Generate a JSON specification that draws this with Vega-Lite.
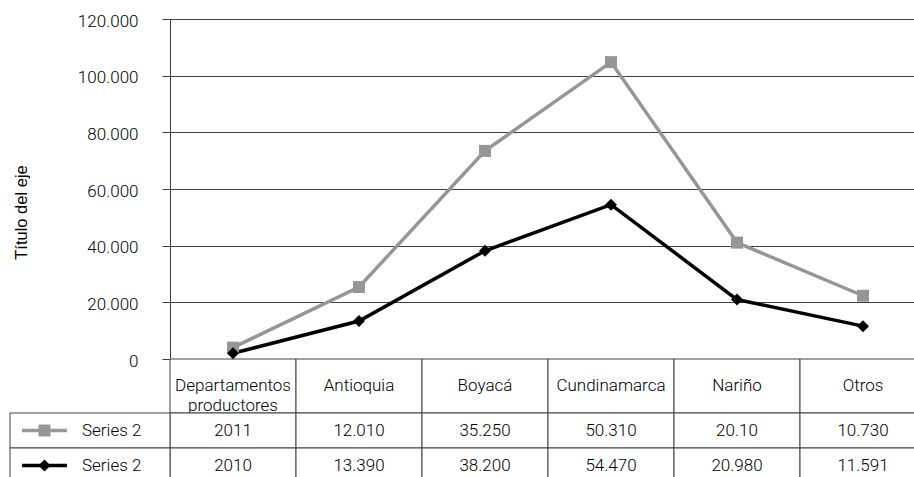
{
  "$schema": "https://vega.github.io/schema/vega-lite/v6.json",
  "width": 756,
  "height": 340,
  "autosize": {"type": "none"},
  "padding": {"left": 170, "top": 19, "right": -12, "bottom": 118},
  "background": "white",
  "config": {
    "view": {"stroke": null},
    "font": "Roboto, sans-serif",
    "text": {"fontWeight": 300},
    "axisY": {"titleFontSize": 16.5, "titleFont": "Liberation Sans, Arial, sans-serif", "titleFontWeight": "normal", "labelFontWeight": 300}
  },
  "datasets": {
    "valores": [
      {"categoria": "Departamentos productores", "serie": "2011", "valor": 2011, "etiqueta": "2011"},
      {"categoria": "Antioquia", "serie": "2011", "valor": 12010, "etiqueta": "12.010"},
      {"categoria": "Boyacá", "serie": "2011", "valor": 35250, "etiqueta": "35.250"},
      {"categoria": "Cundinamarca", "serie": "2011", "valor": 50310, "etiqueta": "50.310"},
      {"categoria": "Nariño", "serie": "2011", "valor": 20100, "etiqueta": "20.10"},
      {"categoria": "Otros", "serie": "2011", "valor": 10730, "etiqueta": "10.730"},
      {"categoria": "Departamentos productores", "serie": "2010", "valor": 2010, "etiqueta": "2010"},
      {"categoria": "Antioquia", "serie": "2010", "valor": 13390, "etiqueta": "13.390"},
      {"categoria": "Boyacá", "serie": "2010", "valor": 38200, "etiqueta": "38.200"},
      {"categoria": "Cundinamarca", "serie": "2010", "valor": 54470, "etiqueta": "54.470"},
      {"categoria": "Nariño", "serie": "2010", "valor": 20980, "etiqueta": "20.980"},
      {"categoria": "Otros", "serie": "2010", "valor": 11591, "etiqueta": "11.591"}
    ],
    "leyenda": [
      {"serie": "2011", "nombre": "Series 2"},
      {"serie": "2010", "nombre": "Series 2"}
    ]
  },
  "layer": [
    {
      "data": {"name": "valores"},
      "transform": [{"filter": "datum.serie == '2011'"}],
      "mark": {"type": "rect", "fill": "white", "stroke": "#404040", "strokeWidth": 1},
      "encoding": {
        "x": {"field": "categoria", "type": "nominal", "sort": ["Departamentos productores", "Antioquia", "Boyacá", "Cundinamarca", "Nariño", "Otros"], "scale": {"type": "band", "paddingInner": 0, "paddingOuter": 0}, "axis": null},
        "y": {"field": "serie", "type": "nominal", "scale": {"type": "band", "domain": ["2011"], "range": [340, 394], "paddingInner": 0, "paddingOuter": 0}, "axis": null}
      }
    },
    {
      "data": {"name": "valores"},
      "transform": [{"filter": "datum.serie == '2011'"}],
      "mark": {"type": "text", "lineBreak": " ", "lineHeight": 20, "fontSize": 17, "fontWeight": 300, "color": "#000000", "align": "center", "baseline": "middle"},
      "encoding": {
        "x": {"field": "categoria", "type": "nominal", "sort": ["Departamentos productores", "Antioquia", "Boyacá", "Cundinamarca", "Nariño", "Otros"], "scale": {"type": "band", "paddingInner": 0, "paddingOuter": 0}, "axis": null},
        "y": {"field": "serie", "type": "nominal", "scale": {"type": "band", "domain": ["2011"], "range": [340, 394], "paddingInner": 0, "paddingOuter": 0}, "axis": null},
        "text": {"field": "categoria"}
      }
    },
    {
      "data": {"name": "valores"},
      "mark": {"type": "rect", "fill": "white", "stroke": "#404040", "strokeWidth": 1},
      "encoding": {
        "x": {"field": "categoria", "type": "nominal", "sort": ["Departamentos productores", "Antioquia", "Boyacá", "Cundinamarca", "Nariño", "Otros"], "scale": {"type": "band", "paddingInner": 0, "paddingOuter": 0}, "axis": null},
        "y": {"field": "serie", "type": "nominal", "scale": {"type": "band", "domain": ["2011", "2010"], "range": [394, 464], "paddingInner": 0, "paddingOuter": 0}, "axis": null}
      }
    },
    {
      "data": {"name": "valores"},
      "mark": {"type": "text", "fontSize": 17, "fontWeight": 300, "color": "#000000", "align": "center", "baseline": "middle"},
      "encoding": {
        "x": {"field": "categoria", "type": "nominal", "sort": ["Departamentos productores", "Antioquia", "Boyacá", "Cundinamarca", "Nariño", "Otros"], "scale": {"type": "band", "paddingInner": 0, "paddingOuter": 0}, "axis": null},
        "y": {"field": "serie", "type": "nominal", "scale": {"type": "band", "domain": ["2011", "2010"], "range": [394, 464], "paddingInner": 0, "paddingOuter": 0}, "axis": null},
        "text": {"field": "etiqueta"}
      }
    },
    {
      "data": {"name": "leyenda"},
      "mark": {"type": "rect", "fill": "white", "stroke": "#404040", "strokeWidth": 1},
      "encoding": {
        "x": {"field": "nombre", "type": "nominal", "scale": {"type": "band", "domain": ["Series 2"], "range": [-160, 0], "paddingInner": 0, "paddingOuter": 0}, "axis": null},
        "y": {"field": "serie", "type": "nominal", "scale": {"type": "band", "domain": ["2011", "2010"], "range": [394, 464], "paddingInner": 0, "paddingOuter": 0}, "axis": null}
      }
    },
    {
      "data": {"name": "leyenda"},
      "mark": {"type": "tick", "orient": "horizontal", "size": 45, "thickness": 3.5, "opacity": 1},
      "encoding": {
        "x": {"field": "nombre", "type": "nominal", "scale": {"type": "band", "domain": ["Series 2"], "range": [-148, -103], "paddingInner": 0, "paddingOuter": 0}, "axis": null},
        "y": {"field": "serie", "type": "nominal", "scale": {"type": "band", "domain": ["2011", "2010"], "range": [394, 464], "paddingInner": 0, "paddingOuter": 0}, "axis": null},
        "color": {"field": "serie", "type": "nominal", "scale": {"domain": ["2011", "2010"], "range": ["#969696", "#000000"]}, "legend": null}
      }
    },
    {
      "data": {"name": "leyenda"},
      "mark": {"type": "point", "filled": true, "size": 144, "opacity": 1, "strokeWidth": 0},
      "encoding": {
        "x": {"field": "nombre", "type": "nominal", "scale": {"type": "band", "domain": ["Series 2"], "range": [-148, -103], "paddingInner": 0, "paddingOuter": 0}, "axis": null},
        "y": {"field": "serie", "type": "nominal", "scale": {"type": "band", "domain": ["2011", "2010"], "range": [394, 464], "paddingInner": 0, "paddingOuter": 0}, "axis": null},
        "color": {"field": "serie", "type": "nominal", "scale": {"domain": ["2011", "2010"], "range": ["#969696", "#000000"]}, "legend": null},
        "shape": {"field": "serie", "type": "nominal", "scale": {"domain": ["2011", "2010"], "range": ["square", "diamond"]}, "legend": null}
      }
    },
    {
      "data": {"name": "leyenda"},
      "mark": {"type": "text", "fontSize": 17, "fontWeight": 300, "color": "#000000", "align": "left", "baseline": "middle"},
      "encoding": {
        "x": {"field": "nombre", "type": "nominal", "bandPosition": 0, "scale": {"type": "band", "domain": ["Series 2"], "range": [-88, 0], "paddingInner": 0, "paddingOuter": 0}, "axis": null},
        "y": {"field": "serie", "type": "nominal", "scale": {"type": "band", "domain": ["2011", "2010"], "range": [394, 464], "paddingInner": 0, "paddingOuter": 0}, "axis": null},
        "text": {"field": "nombre"}
      }
    },
    {
      "data": {"name": "valores"},
      "transform": [{"stack": "valor", "groupby": ["categoria"], "sort": [{"field": "serie", "order": "ascending"}], "as": ["v0", "v1"]}],
      "mark": {"type": "line", "strokeWidth": 3.5},
      "encoding": {
        "x": {"field": "categoria", "type": "nominal", "bandPosition": 0.5, "sort": ["Departamentos productores", "Antioquia", "Boyacá", "Cundinamarca", "Nariño", "Otros"], "scale": {"type": "band", "paddingInner": 0, "paddingOuter": 0}, "axis": null},
        "y": {
          "field": "v1", "type": "quantitative",
          "scale": {"domain": [0, 120000], "nice": false},
          "axis": {
            "values": [0, 20000, 40000, 60000, 80000, 100000, 120000],
            "labelExpr": "replace(format(datum.value, ','), ',', '.')",
            "labelFont": "Roboto, sans-serif",
            "labelFontSize": 17,
            "labelFontWeight": 300,
            "labelColor": "#000000",
            "labelPadding": 24,
            "labelOffset": 2,
            "tickSize": 8,
            "tickColor": "#404040",
            "domainColor": "#404040",
            "grid": true,
            "gridColor": "#404040",
            "gridOpacity": 1,
            "title": "Título del eje",
            "titleFont": "Liberation Sans, Arial, sans-serif",
            "titleFontSize": 16.5,
            "titleFontWeight": "normal",
            "titleColor": "#000000",
            "titleAngle": -90,
            "titleAlign": "center",
            "titleBaseline": "alphabetic",
            "titleX": -144,
            "titleY": 193
          }
        },
        "color": {"field": "serie", "type": "nominal", "scale": {"domain": ["2011", "2010"], "range": ["#969696", "#000000"]}, "legend": null}
      }
    },
    {
      "data": {"name": "valores"},
      "transform": [{"stack": "valor", "groupby": ["categoria"], "sort": [{"field": "serie", "order": "ascending"}], "as": ["v0", "v1"]}],
      "mark": {"type": "point", "filled": true, "size": 144, "opacity": 1, "strokeWidth": 0},
      "encoding": {
        "x": {"field": "categoria", "type": "nominal", "bandPosition": 0.5, "sort": ["Departamentos productores", "Antioquia", "Boyacá", "Cundinamarca", "Nariño", "Otros"], "scale": {"type": "band", "paddingInner": 0, "paddingOuter": 0}, "axis": null},
        "y": {"field": "v1", "type": "quantitative", "scale": {"domain": [0, 120000], "nice": false}, "axis": null},
        "color": {"field": "serie", "type": "nominal", "scale": {"domain": ["2011", "2010"], "range": ["#969696", "#000000"]}, "legend": null},
        "shape": {"field": "serie", "type": "nominal", "scale": {"domain": ["2011", "2010"], "range": ["square", "diamond"]}, "legend": null}
      }
    }
  ],
  "resolve": {"scale": {"x": "independent", "y": "independent"}}
}
